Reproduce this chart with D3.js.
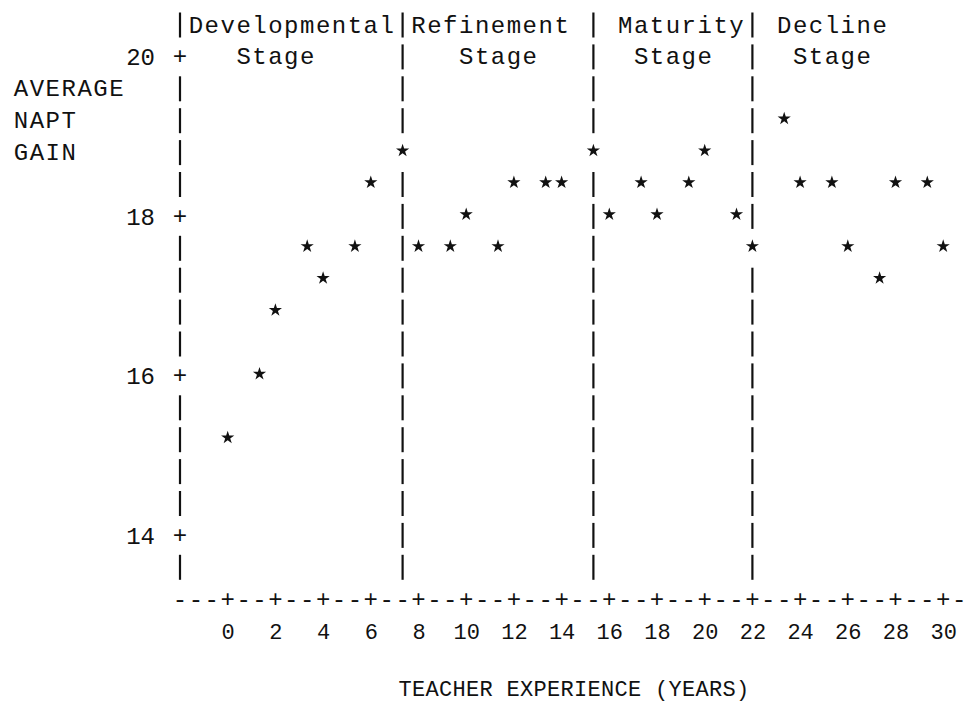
<!DOCTYPE html>
<html lang="en">
<head>
  <meta charset="UTF-8">
  <title>Average NAPT gain by teacher experience</title>
  <style>
    body { margin: 0; background: #fff; }
    svg { display: block; background: #fff; }
    .mono { font-family: "Liberation Mono", "DejaVu Sans Mono", monospace; fill: #111; }
  </style>
</head>
<body>
  <svg id="chart"></svg>

  <script src="https://d3js.org/d3.v7.min.js"></script>
  <script>
    // --- data ---
    const years = [0, 1, 2, 3, 4, 5, 6, 7, 8, 9, 10, 11, 12, 13, 14, 15,
                   16, 17, 18, 19, 20, 21, 22, 23, 24, 25, 26, 27, 28, 29, 30];
    const gains = [15.2, 16.0, 16.8, 17.6, 17.2, 17.6, 18.4, 18.8, 17.6, 17.6, 18.0,
                   17.6, 18.4, 18.4, 18.4, 18.8, 18.0, 18.4, 18.0, 18.4, 18.8, 18.0,
                   17.6, 19.2, 18.4, 18.4, 17.6, 17.2, 18.4, 18.4, 17.6];
    const stageNames = ["Developmental", "Refinement", "Maturity", "Decline"];
    const stageBreaks = [7, 15, 22];           // years where the stage lines sit
    const xTicks = [0, 2, 4, 6, 8, 10, 12, 14, 16, 18, 20, 22, 24, 26, 28, 30];
    const yTicks = [14, 16, 18, 20];
    const yTitle = ["AVERAGE", "NAPT", "GAIN"];
    const xTitle = "TEACHER EXPERIENCE (YEARS)";

    // --- the line printer grid ---
    const width = 968, height = 703;
    const x0 = 180, cw = 15.9;     // column 0 = the y axis
    const y0 = 25, rh = 31.9;      // row 1 = header line
    const colX = c => x0 + c * cw;
    const rowY = r => y0 + (r - 1) * rh;
    const snapCol = px => Math.round((px - x0) / cw + 1e-6);
    const snapRow = py => Math.round((py - y0) / rh + 1e-6) + 1;

    const x = d3.scaleLinear().domain([0, 30]).range([colX(3), colX(48)]);
    const y = d3.scaleLinear().domain([14, 20]).range([rowY(17), rowY(2)]);

    const svg = d3.select("#chart").attr("width", width).attr("height", height);
    const fs = 24;
    const base = 7.5;  // baseline offset from row centre
    const monoFont = '"Liberation Mono", "DejaVu Sans Mono", monospace';

    function glyph(ch, c, r) {
      svg.append("text")
        .attr("class", "mono")
        .attr("x", colX(c)).attr("y", rowY(r) + base)
        .attr("font-size", fs)
        .attr("text-anchor", "middle")
        .text(ch);
    }

    function word(str, c, r) {
      // one glyph per column, like a typewriter
      [...str].forEach((ch, i) => glyph(ch, c + i, r));
    }

    // points, snapped to the grid
    const pts = years.map((yr, i) => ({
      col: snapCol(x(yr)),
      row: snapRow(y(gains[i]))
    }));
    const used = new Set(pts.map(p => p.col + "," + p.row));

    // --- vertical lines (y axis + stage lines) ---
    const tickRows = new Set(yTicks.map(v => snapRow(y(v))));
    const lineCols = [0].concat(stageBreaks.map(b => snapCol(x(b))));
    const lastRow = snapRow(y(14)) + 1;

    lineCols.forEach((c, k) => {
      for (let r = 1; r <= lastRow; r++) {
        if (used.has(c + "," + r)) continue;
        if (k === 0 && tickRows.has(r)) {
          glyph("+", c, r);
          continue;
        }
        svg.append("line")
          .attr("x1", colX(c)).attr("x2", colX(c))
          .attr("y1", rowY(r) - 12.5).attr("y2", rowY(r) + 12.5)
          .attr("stroke", "#111")
          .attr("stroke-width", 2.2);
      }
    });

    // --- stage headings ---
    const headCols = [1, 15, 28, 38];
    const stageCols = [4, 18, 29, 39];
    stageNames.forEach((name, i) => {
      word(name, headCols[i], 1);
      word("Stage", stageCols[i], 2);
    });

    // --- y axis title ---
    yTitle.forEach((t, i) => word(t, -10, 3 + i));

    // --- x axis line of dashes and pluses ---
    const axisRow = lastRow + 1;
    const tickCols = new Set(xTicks.map(v => snapCol(x(v))));
    for (let c = 0; c <= 49; c++) {
      glyph(tickCols.has(c) ? "+" : "-", c, axisRow);
    }

    // --- axis labels through d3 axes ---
    const gx = svg.append("g")
      .attr("transform", `translate(0,${rowY(axisRow)})`)
      .call(d3.axisBottom(x).tickValues(xTicks).tickSize(0).tickPadding(24));
    gx.select(".domain").remove();
    gx.attr("font-family", monoFont).attr("font-size", 22);
    gx.selectAll("text").attr("fill", "#111");

    const gy = svg.append("g")
      .attr("transform", `translate(${colX(0)},0)`)
      .call(d3.axisLeft(y).tickValues(yTicks).tickFormat(d3.format("d"))
        .tickSize(0).tickPadding(25));
    gy.select(".domain").remove();
    gy.attr("font-family", monoFont).attr("font-size", fs);
    gy.selectAll("text").attr("fill", "#111").attr("dy", "0.33em");

    // --- x axis title ---
    svg.append("text")
      .attr("class", "mono")
      .attr("x", 574).attr("y", 696)
      .attr("font-size", 22)
      .attr("letter-spacing", 0.3)
      .attr("text-anchor", "middle")
      .text(xTitle);

    // --- the stars ---
    svg.append("g")
      .selectAll("path")
      .data(pts)
      .join("path")
      .attr("d", d3.symbol(d3.symbolStar, 54))
      .attr("transform", d => `translate(${colX(d.col)},${rowY(d.row) - 2})`)
      .attr("fill", "#111");
  </script>
</body>
</html>
